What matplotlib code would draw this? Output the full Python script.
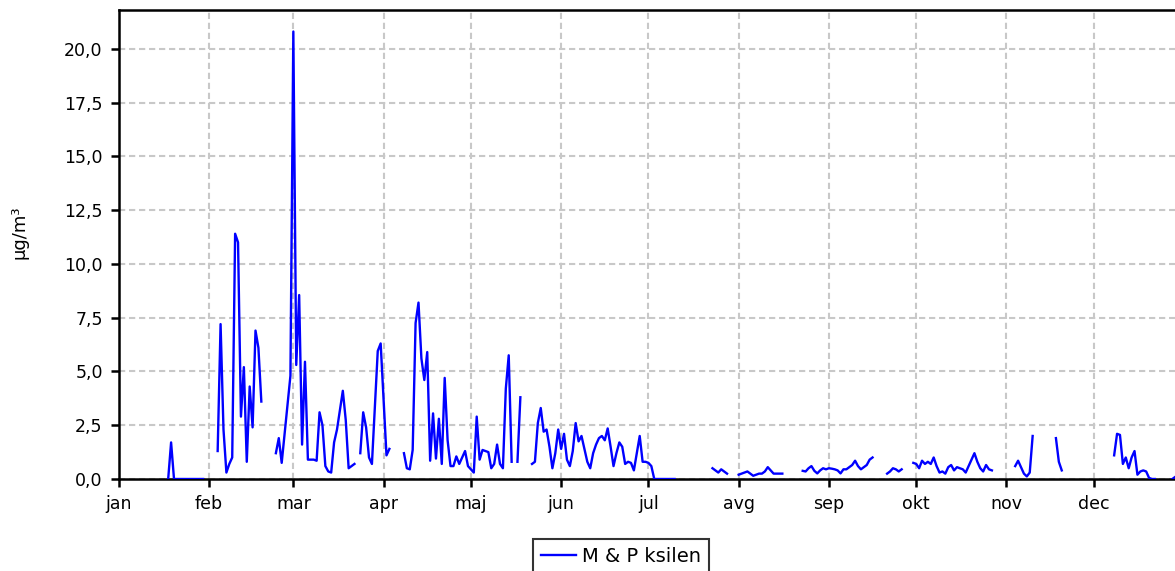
import numpy as np
import pandas as pd
import matplotlib
matplotlib.use("Agg")
import matplotlib.pyplot as plt

# ---- data (daily values, µg/m3; gaps = missing days) ----
year_start = "2024-01-01"
year_last = "2024-12-31"
year_end = "2025-01-01"

seg_starts = ["2024-01-18", "2024-02-04", "2024-02-24", "2024-03-24", "2024-04-08",
              "2024-05-22", "2024-07-23", "2024-08-01", "2024-08-23", "2024-09-21",
              "2024-09-30", "2024-11-04", "2024-11-18", "2024-12-08", "2024-12-28"]

vals_jan = [0, 1.7, 0, 0, 0, 0, 0, 0, 0, 0, 0, 0, 0]
vals_feb = [1.3, 7.2, 2.3, 0.3, 0.7, 1.0, 11.4, 11.0, 2.9, 5.2, 0.8, 4.3, 2.4, 6.9, 6.1, 3.6]
vals_mar = [1.2, 1.9, 0.75, 2.1, 3.5, 4.8, 20.8, 5.3, 8.55, 1.6, 5.45, 0.9, 0.9, 0.9,
            0.85, 3.1, 2.5, 0.6, 0.35, 0.3, 1.7, 2.3, 3.2, 4.1, 2.75, 0.5, 0.6, 0.7]
vals_mar_end = [1.2, 3.1, 2.4, 1.0, 0.7, 3.3, 5.95, 6.3, 3.7, 1.1, 1.4]
vals_apr_may = [1.2, 0.5, 0.45, 1.35, 7.25, 8.2, 5.6, 4.6, 5.9, 0.85, 3.05, 0.95, 2.8,
                0.7, 4.7, 1.8, 0.6, 0.6, 1.05, 0.7, 1.0, 1.3, 0.6, 0.45, 0.3, 2.9, 0.9,
                1.35, 1.3, 1.25, 0.5, 0.7, 1.6, 0.7, 0.5, 4.2, 5.75, 0.8, np.nan, 0.8, 3.8]
vals_jun = [0.7, 0.8, 2.6, 3.3, 2.2, 2.3, 1.5, 0.5, 1.2, 2.3, 1.4, 2.1, 0.9, 0.6, 1.3,
            2.6, 1.75, 2.0, 1.4, 0.8, 0.5, 1.2, 1.6, 1.9, 2.0, 1.8, 2.35, 1.5, 0.6, 1.2,
            1.7, 1.5, 0.7, 0.8, 0.75, 0.4, 1.2, 2.0, 0.8, 0.8, 0.75, 0.6, 0, 0, 0, 0,
            0, 0, 0, 0]
vals_jul_end = [0.5, 0.4, 0.3, 0.45, 0.35, 0.25]
vals_aug = [0.2, 0.25, 0.3, 0.35, 0.25, 0.15, 0.2, 0.25, 0.25, 0.35, 0.55, 0.4, 0.25,
            0.25, 0.25, 0.25]
vals_sep = [0.38, 0.35, 0.5, 0.6, 0.38, 0.26, 0.4, 0.5, 0.45, 0.5, 0.48, 0.45, 0.4,
            0.26, 0.45, 0.45, 0.55, 0.65, 0.85, 0.6, 0.45, 0.55, 0.65, 0.9, 1.0]
vals_sep_end = [0.25, 0.35, 0.5, 0.45, 0.35, 0.45]
vals_oct = [0.75, 0.7, 0.5, 0.85, 0.7, 0.8, 0.7, 1.0, 0.6, 0.3, 0.35, 0.25, 0.55, 0.65,
            0.4, 0.55, 0.5, 0.45, 0.3, 0.6, 0.9, 1.2, 0.8, 0.5, 0.35, 0.65, 0.45, 0.4]
vals_nov = [0.6, 0.85, 0.55, 0.25, 0.12, 0.3, 2.0]
vals_nov_end = [1.9, 0.8, 0.4]
vals_dec = [1.1, 2.1, 2.05, 0.7, 1.0, 0.5, 1.0, 1.3, 0.2, 0.35, 0.4, 0.35, 0.05, 0.0, 0.0]
vals_dec_end = [0.0, 0.1, 0.15, 0.2]

month_labels = ["jan", "feb", "mar", "apr", "maj", "jun", "jul", "avg", "sep", "okt",
                "nov", "dec"]
y_ticks = [0, 2.5, 5, 7.5, 10, 12.5, 15, 17.5, 20]
series_name = "M & P ksilen"
y_label = "µg/m³"

# ---- build daily series ----
seg_vals = [vals_jan, vals_feb, vals_mar, vals_mar_end, vals_apr_may, vals_jun,
            vals_jul_end, vals_aug, vals_sep, vals_sep_end, vals_oct, vals_nov,
            vals_nov_end, vals_dec, vals_dec_end]

days = pd.date_range(year_start, year_last, freq="D")
series = pd.Series(np.nan, index=days)
for start, vals in zip(seg_starts, seg_vals):
    idx = pd.date_range(start, periods=len(vals), freq="D")
    series.loc[idx] = vals

# ---- plot ----
W, H = 1175, 571
AX_L, AX_R, AX_T, AX_B = 118.7, 1184.0, 10.0, 479.0
fig = plt.figure(figsize=(W / 100, H / 100), dpi=100)
ax = fig.add_axes([AX_L / W, 1 - AX_B / H, (AX_R - AX_L) / W, (AX_B - AX_T) / H])

ax.plot(series.index, series.values, color="#0000ff", lw=1.7, label=series_name,
        zorder=3)

ax.set_xlim(pd.Timestamp(year_start), pd.Timestamp(year_end))
ax.set_ylim(0, 21.8)
ax.set_yticks(y_ticks)
ax.set_yticklabels([f"{v:.1f}".replace(".", ",") for v in y_ticks])
month_starts = pd.date_range(year_start, periods=12, freq="MS")
ax.set_xticks(month_starts)
ax.set_xticklabels(month_labels)

ax.grid(True, color="#c8c8c8", lw=1.5, linestyle=(0, (3, 1.8)))
ax.set_axisbelow(True)
for side in ["left", "bottom", "top", "right"]:
    ax.spines[side].set_linewidth(1.8)
    ax.spines[side].set_color("black")
ax.tick_params(axis="both", direction="out", length=5.5, width=1.8, labelsize=12.5,
               pad=6, colors="black")
ax.set_ylabel(y_label, fontsize=13)
ax.yaxis.set_label_coords((28 - AX_L) / (AX_R - AX_L), (AX_B - 232) / (AX_B - AX_T))

leg = fig.legend(loc="upper center", bbox_to_anchor=(621 / W, 1 - 539 / H),
                 fontsize=14, frameon=True, fancybox=False, borderpad=0.4,
                 borderaxespad=0, handlelength=1.8, handletextpad=0.35,
                 edgecolor="black")
leg.get_frame().set_linewidth(1.5)

fig.savefig("out.png", dpi=100)
